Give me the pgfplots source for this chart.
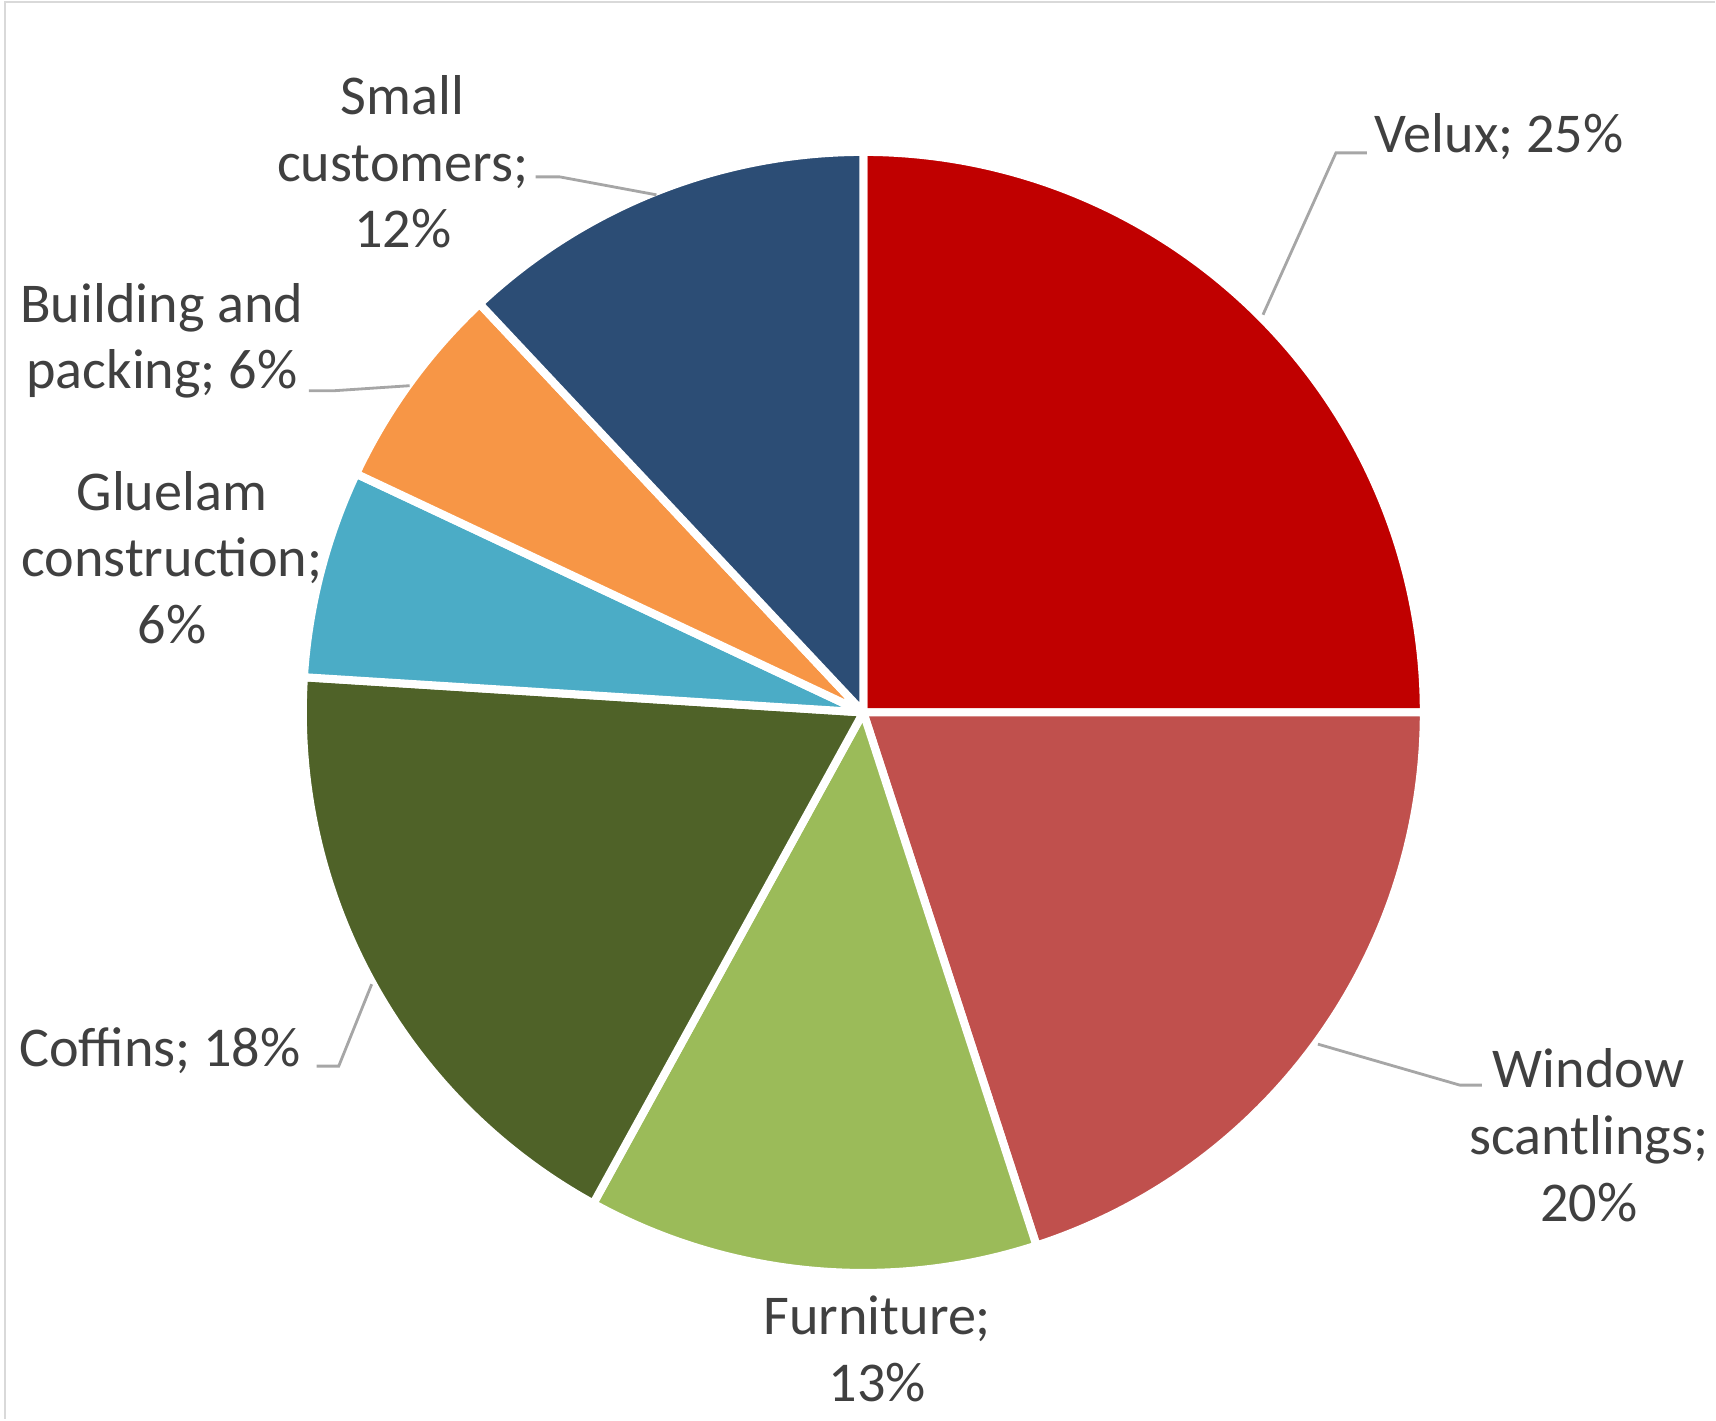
\documentclass[border=0pt]{standalone}
\usepackage{fontspec}
\setmainfont{Carlito}
\usepackage{pgfplots}
\usepackage{pgfplotstable}
\pgfplotsset{compat=1.18}

\definecolor{c0}{HTML}{C00000}
\definecolor{c1}{HTML}{C0504D}
\definecolor{c2}{HTML}{9BBB59}
\definecolor{c3}{HTML}{4F6228}
\definecolor{c4}{HTML}{4BACC6}
\definecolor{c5}{HTML}{F79646}
\definecolor{c6}{HTML}{2C4D75}
\definecolor{txt}{HTML}{404040}
\definecolor{leader}{HTML}{A6A6A6}
\definecolor{frame}{HTML}{D9D9D9}

% shares in percent, clockwise from 12 o'clock
\pgfplotstableread{
share name
25 Velux
20 Window
13 Furniture
18 Coffins
6  Gluelam
6  Building
12 Small
}\piedata

\begin{document}
\begin{tikzpicture}
% start / end angle of each slice from the shares
\def\cum{90}%
\pgfplotsforeachungrouped \i in {0,...,6}{%
  \pgfplotstablegetelem{\i}{share}\of\piedata
  \pgfmathsetmacro\endang{\cum-3.6*\pgfplotsretval}%
  \expandafter\xdef\csname sa\i\endcsname{\cum}%
  \expandafter\xdef\csname ea\i\endcsname{\endang}%
  \xdef\cum{\endang}%
}%
\begin{axis}[
    hide axis,
    scale only axis,
    width=17.16cm, height=14.2cm,
    xmin=0, xmax=1716, ymin=0, ymax=1420,
    clip=false,
]
\path (axis cs:0,0) rectangle (axis cs:1716,1420);
\draw[frame, line width=0.8pt] (axis cs:5,0) -- (axis cs:5,1418) -- (axis cs:1716,1418);

\pgfplotsinvokeforeach{0,...,6}{
  \filldraw[fill=c#1, draw=white, line width=2.3pt, line join=round]
    (axis cs:864,707) -- ++(\csname sa#1\endcsname:5.61cm)
    arc[start angle=\csname sa#1\endcsname, end angle=\csname ea#1\endcsname, radius=5.61cm] -- cycle;
}

% leader lines
\draw[leader, line width=0.8pt] (axis cs:1264,1105) -- (axis cs:1337,1267) -- (axis cs:1368,1267);
\draw[leader, line width=0.8pt] (axis cs:536,1243) -- (axis cs:560,1243) -- (axis cs:657,1225);
\draw[leader, line width=0.8pt] (axis cs:309,1029) -- (axis cs:335,1029) -- (axis cs:410,1034);
\draw[leader, line width=0.8pt] (axis cs:317,353) -- (axis cs:339,353) -- (axis cs:372,435);
\draw[leader, line width=0.8pt] (axis cs:1319,375) -- (axis cs:1461,334) -- (axis cs:1483,334);

% data labels
\tikzset{lbl/.style={text=txt, align=center, inner sep=0pt, font=\fontsize{16}{19}\selectfont}}
\node[lbl, anchor=base west] at (axis cs:1375,1267) {Velux; 25\%};
\node[lbl] at (axis cs:1590,284) {Window\\scantlings;\\20\%};
\node[lbl] at (axis cs:878,70) {Furniture;\\13\%};
\node[lbl, anchor=base] at (axis cs:160,353) {Coffins; 18\%};
\node[lbl] at (axis cs:172,862) {Gluelam\\construction;\\6\%};
\node[lbl] at (axis cs:162,1079) {Building and\\packing; 6\%};
\node[lbl] at (axis cs:403,1258) {Small\\customers;\\12\%};
\end{axis}
\end{tikzpicture}
\end{document}
